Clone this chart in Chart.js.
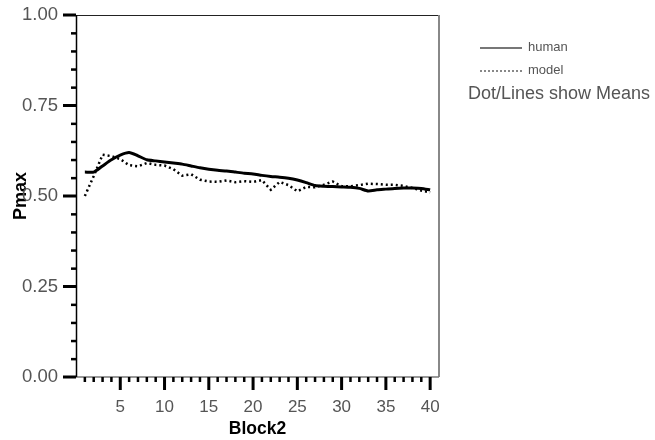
<!DOCTYPE html>
<html>
<head>
<meta charset="utf-8">
<script src="https://cdn.jsdelivr.net/npm/chart.js@4.4.0/dist/chart.umd.min.js"></script>
<style>
  body { margin: 0; background: #fff; overflow: hidden; }
  #wrap { position: relative; width: 655px; height: 440px; font-family: "Liberation Sans", Arial, sans-serif; color: #555; }
  #chart { position: absolute; left: 0; top: 0; }
  .leg { position: absolute; left: 480px; font-size: 13px; line-height: 16px; }
  .leg .sw { display: inline-block; width: 42px; vertical-align: middle; margin-right: 6px; }
  #note { position: absolute; left: 468px; top: 83px; font-size: 18px; white-space: nowrap; }
</style>
</head>
<body>
<div id="wrap">
  <canvas id="chart" width="655" height="440"></canvas>
  <div class="leg" style="top:39px"><span class="sw" style="border-top:2px solid #777"></span>human</div>
  <div class="leg" style="top:62px"><span class="sw" style="border-top:2px dotted #888"></span>model</div>
  <div id="note">Dot/Lines show Means</div>
</div>
<script>
// Block numbers and means
const blocks = [1, 2, 3, 4, 5, 6, 7, 8, 9, 10, 11, 12, 13, 14, 15, 16, 17, 18, 19, 20,
    21, 22, 23, 24, 25, 26, 27, 28, 29, 30, 31, 32, 33, 34, 35, 36, 37, 38, 39, 40];
const human = [0.566, 0.566, 0.583, 0.600, 0.613, 0.620, 0.611, 0.600, 0.597, 0.594,
    0.591, 0.588, 0.583, 0.578, 0.574, 0.571, 0.569, 0.566, 0.563, 0.561,
    0.557, 0.554, 0.552, 0.549, 0.544, 0.537, 0.529, 0.527, 0.526, 0.525,
    0.524, 0.521, 0.514, 0.517, 0.519, 0.521, 0.522, 0.522, 0.521, 0.517];
const model = [0.500, 0.555, 0.614, 0.610, 0.602, 0.585, 0.582, 0.591, 0.586, 0.584,
    0.574, 0.556, 0.560, 0.545, 0.540, 0.539, 0.543, 0.538, 0.541, 0.539,
    0.544, 0.517, 0.539, 0.530, 0.513, 0.525, 0.524, 0.531, 0.540, 0.527,
    0.527, 0.530, 0.534, 0.533, 0.531, 0.531, 0.528, 0.522, 0.515, 0.510];
const xTickLabels = [5, 10, 15, 20, 25, 30, 35, 40];
const yTickLabels = [0, 0.25, 0.5, 0.75, 1];

// Axis lines, frame and tick marks (major + minor)
const axisPlugin = {
    id: 'axisPlugin',
    afterDraw(chart) {
        const ctx = chart.ctx;
        const a = chart.chartArea;
        const xs = chart.scales.x, ys = chart.scales.y;
        ctx.save();
        // frame top / right
        ctx.strokeStyle = '#222';
        ctx.lineWidth = 1;
        ctx.beginPath();
        ctx.moveTo(a.left, a.top + 0.5);
        ctx.lineTo(a.right, a.top + 0.5);
        ctx.stroke();
        ctx.strokeStyle = '#888';
        ctx.lineWidth = 2;
        ctx.beginPath();
        ctx.moveTo(a.right, a.top);
        ctx.lineTo(a.right, a.bottom);
        ctx.stroke();
        // bottom axis
        ctx.strokeStyle = '#777';
        ctx.lineWidth = 1.5;
        ctx.beginPath();
        ctx.moveTo(a.left, a.bottom);
        ctx.lineTo(a.right, a.bottom);
        ctx.stroke();
        // left axis
        ctx.strokeStyle = '#000';
        ctx.beginPath();
        ctx.moveTo(a.left + 0.5, a.top);
        ctx.lineTo(a.left + 0.5, a.bottom);
        ctx.stroke();

        ctx.fillStyle = '#000';
        // y ticks
        for (let i = 0; i <= 20; i++) {
            const y = ys.getPixelForValue(i * 0.05);
            if (i % 5 === 0) ctx.fillRect(a.left - 13, y - 1.5, 13, 3);
            else ctx.fillRect(a.left - 5, y - 1, 5, 2.5);
        }
        // x ticks
        for (let i = 1; i <= 40; i++) {
            const x = xs.getPixelForValue(i);
            if (i % 5 === 0) ctx.fillRect(x - 1.5, a.bottom, 3, 13);
            else ctx.fillRect(x - 1.25, a.bottom, 2.5, 5);
        }
        ctx.restore();
    }
};

const ctx = document.getElementById('chart').getContext('2d');
new Chart(ctx, {
    type: 'line',
    data: {
        datasets: [{
            label: 'human',
            data: blocks.map((b, i) => ({ x: b, y: human[i] })),
            borderColor: '#000',
            borderWidth: 3,
            pointRadius: 0,
            tension: 0.2
        }, {
            label: 'model',
            data: blocks.map((b, i) => ({ x: b, y: model[i] })),
            borderColor: '#000',
            borderWidth: 2.5,
            borderDash: [2, 3],
            pointRadius: 0,
            tension: 0
        }]
    },
    options: {
        responsive: false,
        animation: false,
        devicePixelRatio: 1,
        layout: { padding: { top: 15, right: 216, left: 0, bottom: 0 } },
        plugins: {
            legend: { display: false },
            tooltip: { enabled: false }
        },
        scales: {
            x: {
                type: 'linear',
                min: 0,
                max: 41,
                afterFit: s => {
                    s.height = 63;
                    s.paddingLeft = 0;
                    s.paddingRight = 0;
                },
                afterBuildTicks: s => { s.ticks = xTickLabels.map(v => ({ value: v })); },
                grid: { display: false, drawTicks: false },
                border: { display: false },
                ticks: {
                    padding: 20,
                    maxRotation: 0,
                    autoSkip: false,
                    color: '#555',
                    font: { family: 'Liberation Sans', size: 17 }
                },
                title: {
                    display: true,
                    text: 'Block2',
                    color: '#000',
                    padding: { top: 0, bottom: 0 },
                    font: { family: 'Liberation Sans', size: 17.5, weight: 'bold' }
                }
            },
            y: {
                min: 0,
                max: 1,
                afterFit: s => {
                    s.width = 76;
                    s.paddingTop = 0;
                    s.paddingBottom = 0;
                },
                afterBuildTicks: s => { s.ticks = yTickLabels.map(v => ({ value: v })); },
                grid: { display: false, drawTicks: false },
                border: { display: false },
                ticks: {
                    padding: 18,
                    color: '#555',
                    autoSkip: false,
                    callback: v => Number(v).toFixed(2),
                    font: { family: 'Liberation Sans', size: 18.5 }
                },
                title: {
                    display: true,
                    text: 'Pmax',
                    color: '#000',
                    padding: { top: 10, bottom: 0 },
                    font: { family: 'Liberation Sans', size: 18, weight: 'bold' }
                }
            }
        }
    },
    plugins: [axisPlugin]
});
</script>
</body>
</html>
